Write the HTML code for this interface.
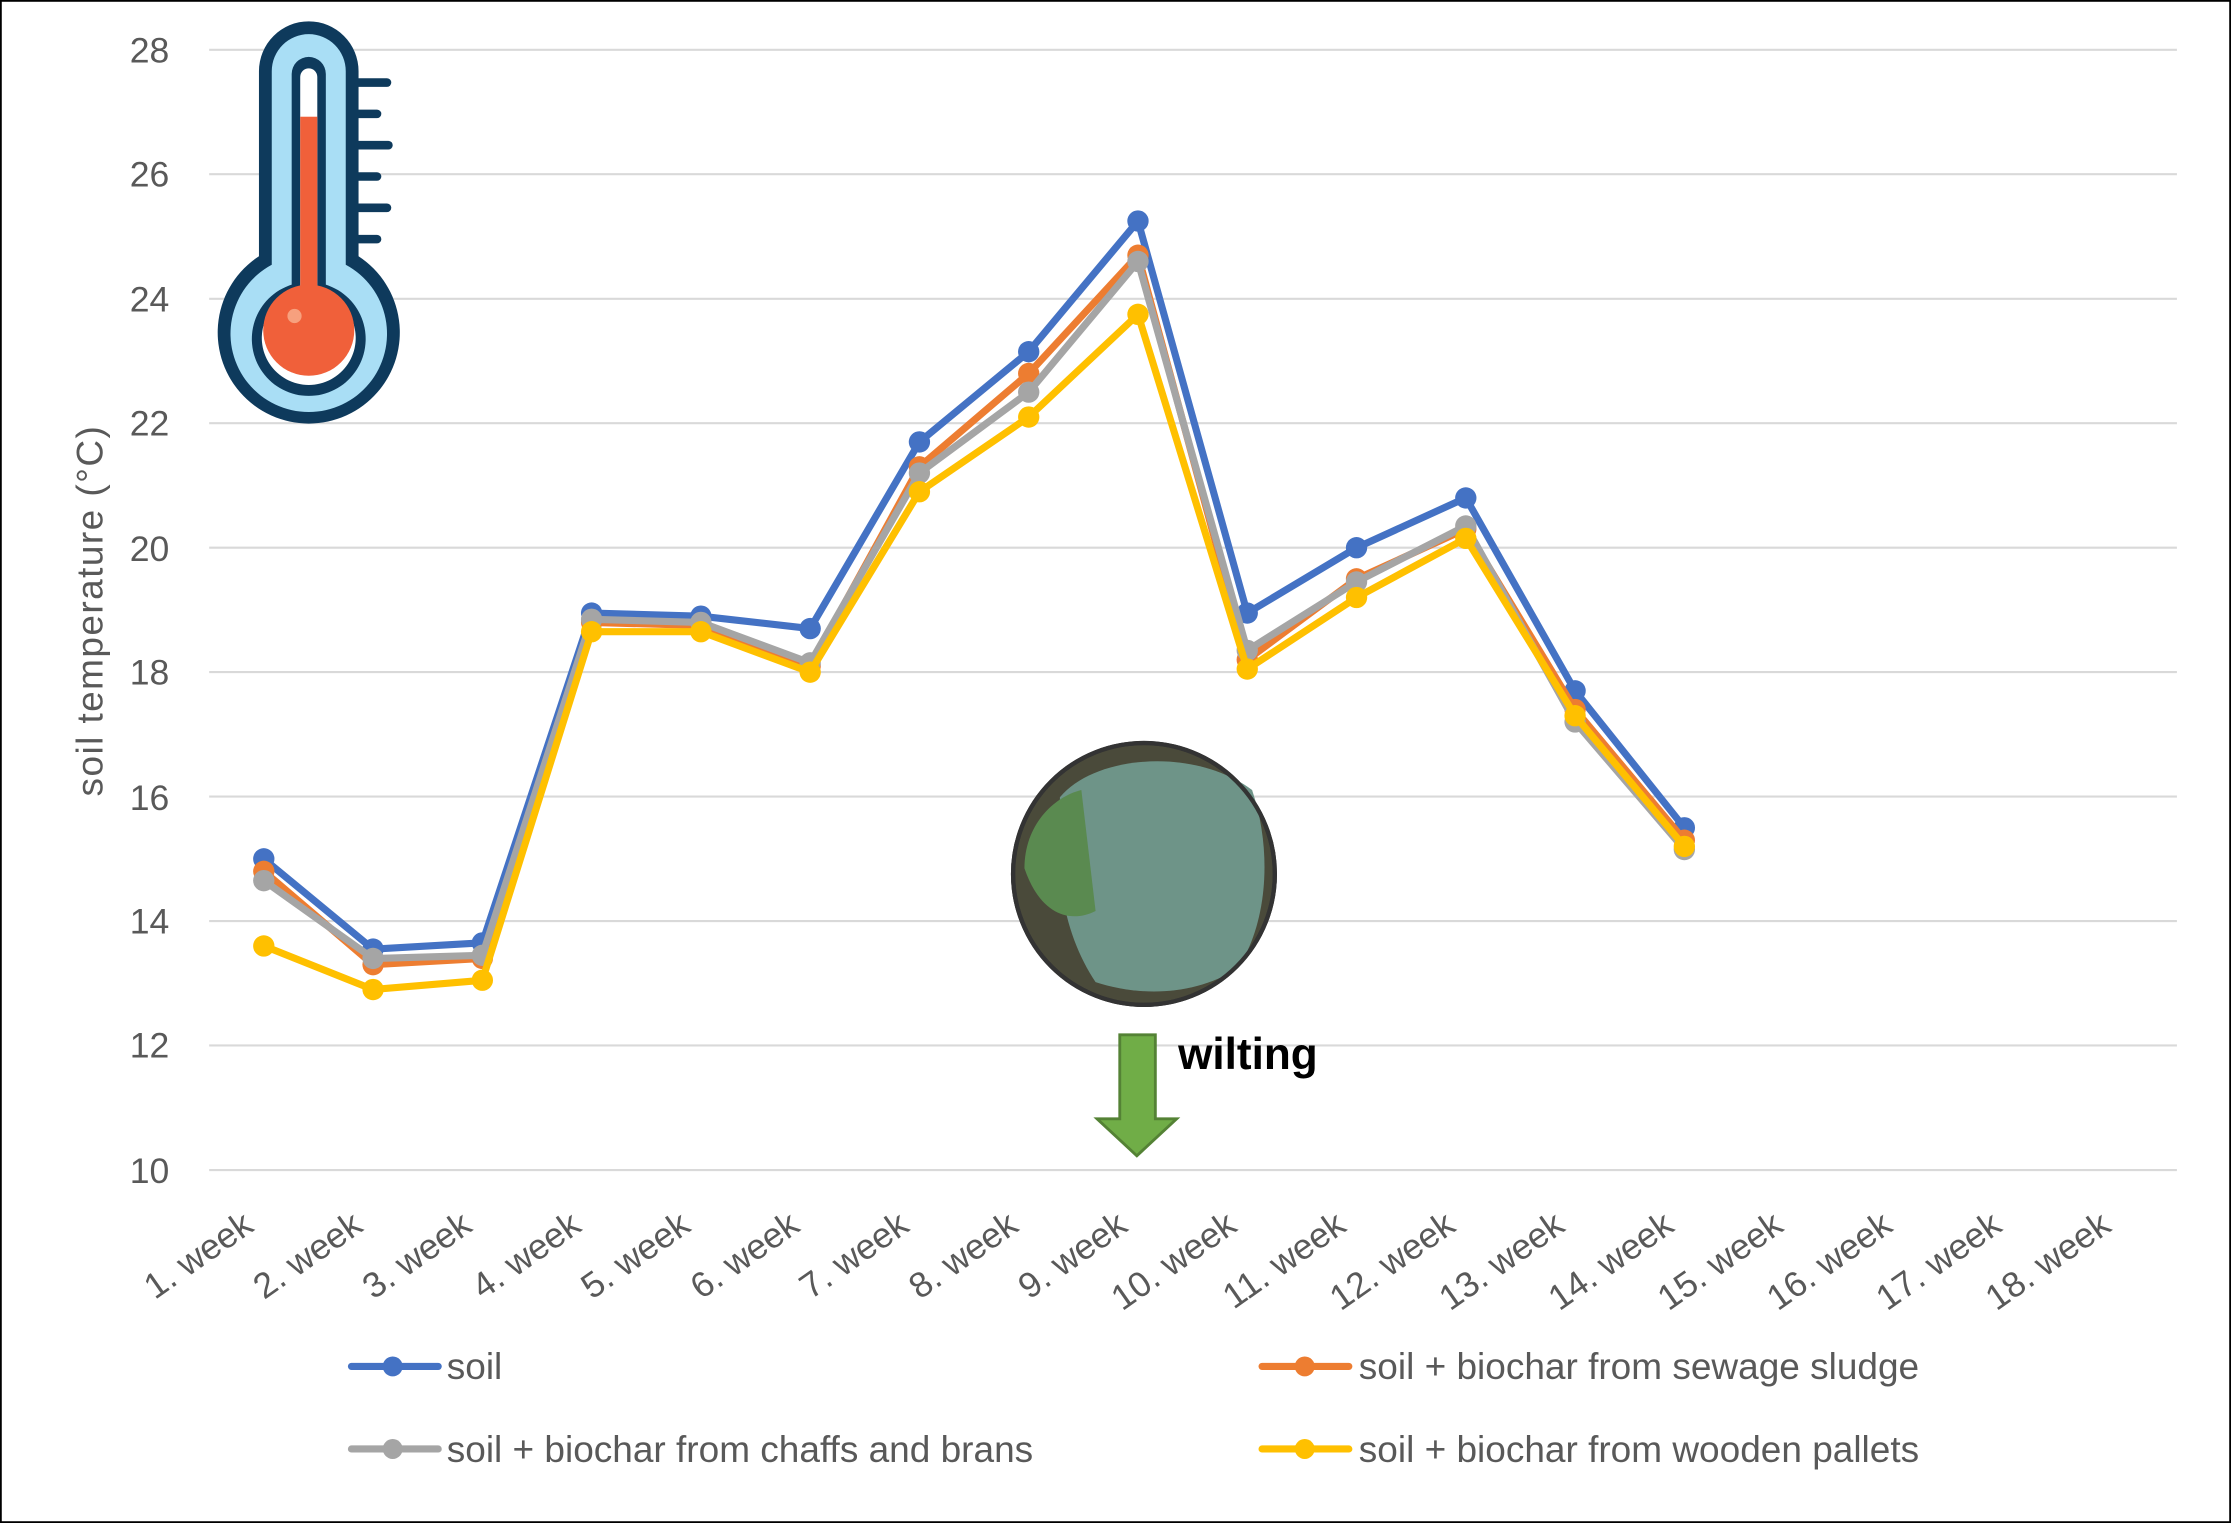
<!DOCTYPE html>
<html><head><meta charset="utf-8"><style>
html,body{margin:0;padding:0;background:#fff}
svg{display:block}
text{font-family:"Liberation Sans",sans-serif}
</style></head><body>
<svg width="2231" height="1523" viewBox="0 0 1568 1070" preserveAspectRatio="none" xmlns="http://www.w3.org/2000/svg">
<rect x="0.5" y="0.5" width="1567" height="1069" fill="#fff" stroke="#000" stroke-width="1.5"/>
<g stroke="#d9d9d9" stroke-width="1.5">
<line x1="147" x2="1530" y1="35" y2="35"/><line x1="147" x2="1530" y1="122.4" y2="122.4"/>
<line x1="147" x2="1530" y1="209.9" y2="209.9"/><line x1="147" x2="1530" y1="297.3" y2="297.3"/>
<line x1="147" x2="1530" y1="384.8" y2="384.8"/><line x1="147" x2="1530" y1="472.2" y2="472.2"/>
<line x1="147" x2="1530" y1="559.6" y2="559.6"/><line x1="147" x2="1530" y1="647.1" y2="647.1"/>
<line x1="147" x2="1530" y1="734.5" y2="734.5"/><line x1="147" x2="1530" y1="822" y2="822"/>
</g>
<g fill="#595959" font-size="25" text-anchor="end">
<text x="119" y="44">28</text><text x="119" y="131">26</text><text x="119" y="219">24</text>
<text x="119" y="306">22</text><text x="119" y="394">20</text><text x="119" y="481">18</text>
<text x="119" y="569">16</text><text x="119" y="656">14</text><text x="119" y="743">12</text>
<text x="119" y="831">10</text>
</g>
<text transform="translate(72,429) rotate(-90)" text-anchor="middle" fill="#595959" font-size="26" letter-spacing="1">soil temperature (°C)</text>
<g id="xl" fill="#595959" font-size="25" text-anchor="end"></g>

<!-- thermometer -->
<g>
<path d="M182,50 a35,35 0 0 1 70,0 V180 a64,64 0 1 1 -70,0 Z" fill="#0e3a5c"/>
<path d="M191,50 a26,26 0 0 1 52,0 V186 a55,55 0 1 1 -52,0 Z" fill="#a9def5"/>
<path d="M205,52 a12,12 0 0 1 24,0 V200 a40,40 0 1 1 -24,0 Z" fill="#0e3a5c"/>
<path d="M211,54 a6,6 0 0 1 12,0 V205 a33,33 0 1 1 -12,0 Z" fill="#fff"/>
<rect x="211" y="82" width="12" height="130" fill="#f0603a"/>
<circle cx="217" cy="232" r="32" fill="#f0603a"/>
<circle cx="207" cy="222" r="5" fill="#f7a07e"/>
<g stroke="#0e3a5c" stroke-width="6" stroke-linecap="round">
<line x1="252" x2="272" y1="58" y2="58"/><line x1="252" x2="265" y1="80" y2="80"/>
<line x1="252" x2="273" y1="102" y2="102"/><line x1="252" x2="265" y1="124" y2="124"/>
<line x1="252" x2="272" y1="146" y2="146"/><line x1="252" x2="265" y1="168" y2="168"/>
</g>
</g>

<!-- photo -->
<circle cx="804" cy="614" r="92" fill="#4a4a3a" stroke="#333" stroke-width="3"/>
<path d="M745,560 C770,530 840,525 880,555 C895,600 890,650 870,680 C840,700 800,700 770,690 C750,660 740,620 745,560Z" fill="#6e9488"/>
<path d="M720,610 C720,580 740,560 760,555 L770,640 C750,650 730,640 720,610Z" fill="#5a8a50"/>
<circle cx="804" cy="614" r="92" fill="none" stroke="#333" stroke-width="3"/>

<!-- arrow -->
<path d="M787,727 H812 V786 H827 L799,812 L771,786 H787 Z" fill="#70ad47" stroke="#548235" stroke-width="2"/>
<text x="828" y="751" font-size="31" font-weight="bold" fill="#000">wilting</text>

<g id="series"></g>

<!-- legend -->
<g stroke-width="5" stroke-linecap="round">
<line x1="247" x2="308" y1="960" y2="960" stroke="#4472c4"/><circle cx="276" cy="960" r="7" fill="#4472c4"/>
<line x1="887" x2="948" y1="960" y2="960" stroke="#ed7d31"/><circle cx="917" cy="960" r="7" fill="#ed7d31"/>
<line x1="247" x2="308" y1="1018" y2="1018" stroke="#a5a5a5"/><circle cx="276" cy="1018" r="7" fill="#a5a5a5"/>
<line x1="887" x2="948" y1="1018" y2="1018" stroke="#ffc000"/><circle cx="917" cy="1018" r="7" fill="#ffc000"/>
</g>
<g fill="#595959" font-size="26">
<text x="314" y="969">soil</text>
<text x="955" y="969">soil + biochar from sewage sludge</text>
<text x="314" y="1027">soil + biochar from chaffs and brans</text>
<text x="955" y="1027">soil + biochar from wooden pallets</text>
</g>
<script>
var NS="http://www.w3.org/2000/svg";
function X(i){return 185.4+76.8*i}
function Y(v){return 822-(v-10)*43.72}
var xl=document.getElementById('xl');
for(var i=0;i<18;i++){var t=document.createElementNS(NS,'text');var x=X(i)-6,y=864;
t.setAttribute('transform','translate('+x+','+y+') rotate(-35)');t.textContent=(i+1)+'. week';xl.appendChild(t);}
var S=[
["#ffc000",[13.6,12.9,13.05,18.65,18.65,18.0,20.9,22.1,23.75,18.05,19.2,20.15,17.3,15.2]],
["#a5a5a5",[14.65,13.4,13.45,18.85,18.8,18.15,21.2,22.5,24.6,18.35,19.45,20.35,17.2,15.15]],
["#ed7d31",[14.8,13.3,13.4,18.8,18.75,18.1,21.3,22.8,24.7,18.2,19.5,20.3,17.4,15.3]],
["#4472c4",[15.0,13.55,13.65,18.95,18.9,18.7,21.7,23.15,25.25,18.95,20.0,20.8,17.7,15.5]]];
var g=document.getElementById('series');
S.slice().reverse().forEach(function(s){
var p=s[1].map(function(v,i){return X(i).toFixed(1)+','+Y(v).toFixed(1)}).join(' ');
var pl=document.createElementNS(NS,'polyline');pl.setAttribute('points',p);pl.setAttribute('fill','none');
pl.setAttribute('stroke',s[0]);pl.setAttribute('stroke-width','5');pl.setAttribute('stroke-linejoin','round');g.appendChild(pl);
s[1].forEach(function(v,i){var c=document.createElementNS(NS,'circle');c.setAttribute('cx',X(i));c.setAttribute('cy',Y(v));c.setAttribute('r','7.5');c.setAttribute('fill',s[0]);g.appendChild(c);});
});
</script>
</svg>
</body></html>
